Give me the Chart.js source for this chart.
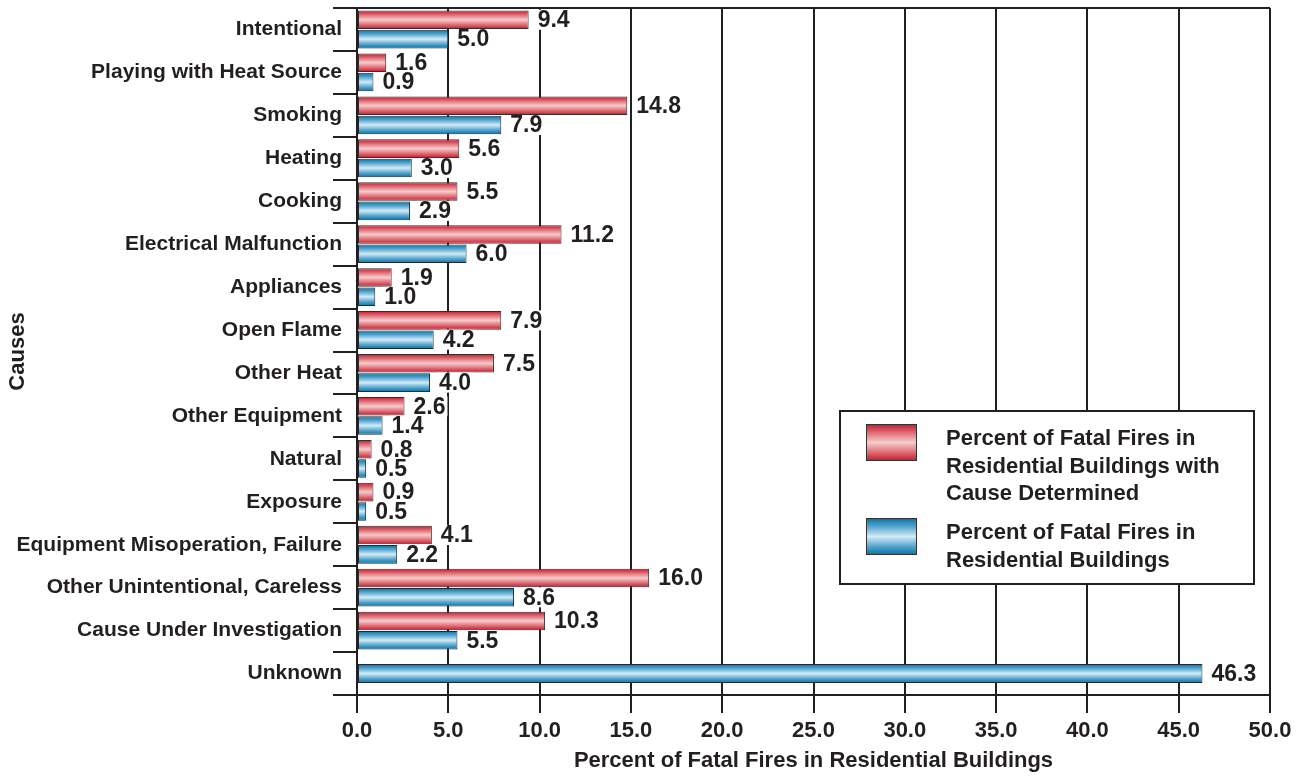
<!DOCTYPE html>
<html>
<head>
<meta charset="utf-8">
<script src="https://cdn.jsdelivr.net/npm/chart.js@4.4.1/dist/chart.umd.min.js"></script>
<style>
  body { margin: 0; background: #fff; }
  canvas { display: block; }
</style>
</head>
<body>
<canvas id="chart" width="1304" height="778"></canvas>
<script>
// fatal residential fires by cause
const categories = ['Intentional', 'Playing with Heat Source', 'Smoking', 'Heating', 'Cooking',
    'Electrical Malfunction', 'Appliances', 'Open Flame', 'Other Heat', 'Other Equipment',
    'Natural', 'Exposure', 'Equipment Misoperation, Failure', 'Other Unintentional, Careless',
    'Cause Under Investigation', 'Unknown'];

const causeDetermined = [9.4, 1.6, 14.8, 5.6, 5.5, 11.2, 1.9, 7.9, 7.5, 2.6, 0.8, 0.9, 4.1, 16.0, 10.3, null];
const allFires = [5.0, 0.9, 7.9, 3.0, 2.9, 6.0, 1.0, 4.2, 4.0, 1.4, 0.5, 0.5, 2.2, 8.6, 5.5, 46.3];

const seriesNames = ['Percent of Fatal Fires in Residential Buildings with Cause Determined',
    'Percent of Fatal Fires in Residential Buildings'];
const legendLines = [
    ['Percent of Fatal Fires in', 'Residential Buildings with', 'Cause Determined'],
    ['Percent of Fatal Fires in', 'Residential Buildings']
];

const xTicks = [0, 5, 10, 15, 20, 25, 30, 35, 40, 45, 50];

const FONT = '"Liberation Sans", Arial, sans-serif';
const INK = '#231f20';

const shades = [
    {dark: '#c01a2c', mid: '#de6670', light: '#f6cccb'},
    {dark: '#0570a4', mid: '#4fa2cc', light: '#d3ebf5'}
];

function tubeGradient(ctx, top, bottom, s) {
    const g = ctx.createLinearGradient(0, top, 0, bottom);
    g.addColorStop(0, s.dark);
    g.addColorStop(0.22, s.mid);
    g.addColorStop(0.5, s.light);
    g.addColorStop(0.78, s.mid);
    g.addColorStop(1, s.dark);
    return g;
}

// give every bar its own vertical gradient
const tubePlugin = {
    id: 'tubes',
    beforeDatasetsDraw(chart) {
        chart.data.datasets.forEach((ds, di) => {
            const meta = chart.getDatasetMeta(di);
            meta.data.forEach(el => {
                const h = el.height;
                el.options = Object.assign({}, el.options, {
                    backgroundColor: tubeGradient(chart.ctx, el.y - h / 2, el.y + h / 2, shades[di])
                });
            });
        });
    }
};

const valueLabels = {
    id: 'valueLabels',
    afterDatasetsDraw(chart) {
        const ctx = chart.ctx;
        ctx.save();
        ctx.font = 'bold 23px ' + FONT;
        ctx.textBaseline = 'middle';
        ctx.textAlign = 'left';
        chart.data.datasets.forEach((ds, di) => {
            chart.getDatasetMeta(di).data.forEach((el, i) => {
                const v = ds.data[i];
                if (v === null || v === undefined) return;
                const txt = v.toFixed(1);
                const x = el.x + 9;
                const w = ctx.measureText(txt).width;
                ctx.fillStyle = '#fff';
                ctx.fillRect(x - 2, el.y - 10, w + 4, 20);
                ctx.fillStyle = INK;
                ctx.fillText(txt, x, el.y + 1);
            });
        });
        ctx.restore();
    }
};

const frameAndLegend = {
    id: 'frameAndLegend',
    afterDraw(chart) {
        const ctx = chart.ctx;
        const a = chart.chartArea;
        ctx.save();
        // top edge of the frame
        ctx.strokeStyle = INK;
        ctx.lineWidth = 2;
        ctx.beginPath();
        ctx.moveTo(a.left, a.top);
        ctx.lineTo(a.right, a.top);
        ctx.stroke();

        // legend box
        const bx = 840, by = 411, bw = 414, bh = 173;
        ctx.fillStyle = '#fff';
        ctx.fillRect(bx, by, bw, bh);
        ctx.strokeRect(bx, by, bw, bh);

        ctx.font = 'bold 22px ' + FONT;
        ctx.textBaseline = 'middle';
        const rows = [by + 13, by + 107];
        legendLines.forEach((lines, di) => {
            const sy = rows[di];
            ctx.fillStyle = tubeGradient(ctx, sy, sy + 37, shades[di]);
            ctx.fillRect(bx + 26, sy, 51, 37);
            ctx.lineWidth = 1;
            ctx.strokeStyle = '#333';
            ctx.strokeRect(bx + 26.5, sy + 0.5, 50, 36);
            ctx.fillStyle = INK;
            lines.forEach((ln, k) => {
                ctx.fillText(ln, bx + 106, sy + 15 + k * 27.5);
            });
        });
        ctx.restore();
    }
};

new Chart(document.getElementById('chart'), {
    type: 'bar',
    data: {
        labels: categories,
        datasets: [
            {
                label: seriesNames[0],
                data: causeDetermined,
                backgroundColor: shades[0].dark,
                borderColor: '#3a2a2a',
                borderWidth: 1,
                borderSkipped: false
            },
            {
                label: seriesNames[1],
                data: allFires,
                backgroundColor: shades[1].dark,
                borderColor: '#1d2a33',
                borderWidth: 1,
                borderSkipped: false
            }
        ]
    },
    options: {
        indexAxis: 'y',
        responsive: false,
        animation: false,
        skipNull: true,
        categoryPercentage: 0.9,
        barPercentage: 0.96,
        maxBarThickness: 19,
        layout: {padding: {top: 8, right: 34, bottom: 0, left: 0}},
        plugins: {
            legend: {display: false},
            tooltip: {enabled: false}
        },
        scales: {
            x: {
                min: 0,
                max: 50,
                afterBuildTicks(scale) {
                    scale.ticks = xTicks.map(v => ({value: v}));
                },
                afterFit(scale) { scale.height = 83; },
                grid: {color: INK, lineWidth: 2, tickLength: 18, tickColor: INK},
                border: {color: INK, width: 2},
                ticks: {
                    color: INK,
                    padding: 5,
                    font: {family: FONT, size: 22, weight: 'bold'},
                    callback: v => Number(v).toFixed(1)
                },
                title: {
                    display: true,
                    text: 'Percent of Fatal Fires in Residential Buildings',
                    color: INK,
                    font: {family: FONT, size: 22, weight: 'bold', lineHeight: 1.2},
                    padding: {top: 0, bottom: 4}
                }
            },
            y: {
                afterFit(scale) { scale.width = 357; },
                grid: {
                    offset: true,
                    drawOnChartArea: false,
                    tickLength: 24,
                    tickColor: INK,
                    lineWidth: 2
                },
                border: {color: INK, width: 2},
                ticks: {
                    color: INK,
                    padding: -9,
                    font: {family: FONT, size: 21, weight: 'bold'}
                },
                title: {
                    display: true,
                    text: 'Causes',
                    color: INK,
                    font: {family: FONT, size: 22, weight: 'bold', lineHeight: 1.2},
                    padding: {top: 5, bottom: 0}
                }
            }
        }
    },
    plugins: [tubePlugin, valueLabels, frameAndLegend]
});
</script>
</body>
</html>
